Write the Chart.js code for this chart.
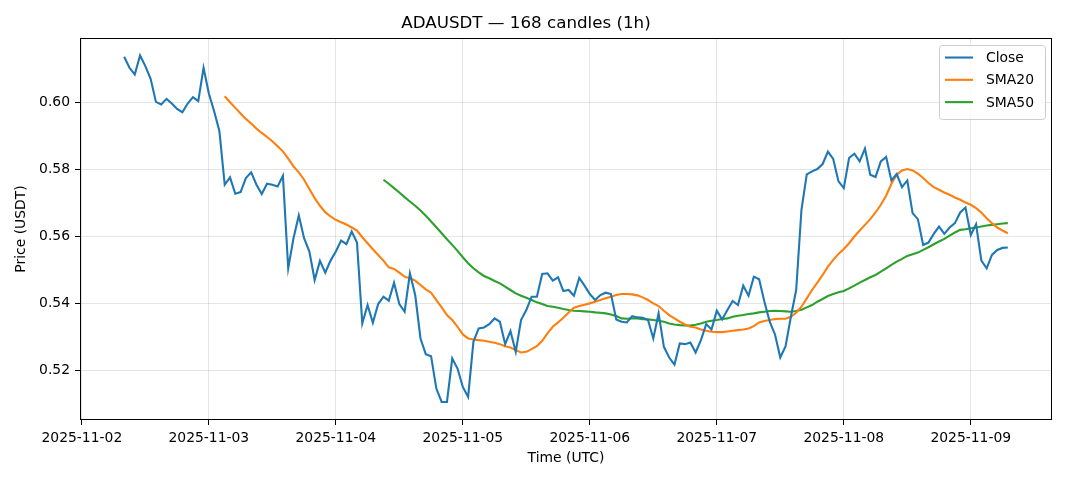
<!DOCTYPE html>
<html><head><meta charset="utf-8">
<script src="https://cdn.jsdelivr.net/npm/chart.js@4.4.1/dist/chart.umd.min.js"></script>
<style>html,body{margin:0;padding:0;background:#fff;overflow:hidden}#wrap{width:1068px;height:481px}</style>
</head><body><div id="wrap"><canvas id="c" width="1068" height="481"></canvas></div>
<script>
// Hours are counted from 2025-11-02 00:00 UTC; the first candle opens at 08:00.
const startHour = 8;
const dayTickHours = [0, 24, 48, 72, 96, 120, 144, 168];
const dayLabels = ['2025-11-02','2025-11-03','2025-11-04','2025-11-05','2025-11-06','2025-11-07','2025-11-08','2025-11-09'];
const yTicks = [0.52, 0.54, 0.56, 0.58, 0.60];
const yTickLabels = ['0.52', '0.54', '0.56', '0.58', '0.60'];

const close = [
0.6138,0.6105,0.6085,0.6142,0.6110,0.6072,0.6003,0.5995,0.6012,0.5998,
0.5982,0.5972,0.5998,0.6017,0.6005,0.6105,0.6028,0.5975,0.5915,0.5755,
0.5777,0.5728,0.5733,0.5775,0.5792,0.5755,0.5727,0.5758,0.5755,0.5750,
0.5782,0.5505,0.5595,0.5663,0.5595,0.5555,0.5470,0.5527,0.5492,0.5528,
0.5555,0.5588,0.5577,0.5615,0.5582,0.5340,0.5395,0.5342,0.5398,0.5420,
0.5408,0.5462,0.5398,0.5375,0.5490,0.5425,0.5295,0.5248,0.5242,0.5145,
0.5105,0.5105,0.5235,0.5205,0.5150,0.5120,0.5285,0.5325,0.5328,0.5338,
0.5355,0.5345,0.5278,0.5317,0.5255,0.5350,0.5380,0.5420,0.5420,0.5488,
0.5490,0.5468,0.5478,0.5437,0.5440,0.5423,0.5476,0.5453,0.5428,0.5410,
0.5425,0.5432,0.5428,0.5352,0.5345,0.5343,0.5362,0.5358,0.5357,0.5350,
0.5295,0.5370,0.5270,0.5238,0.5217,0.5280,0.5278,0.5283,0.5253,0.5290,
0.5338,0.5322,0.5378,0.5352,0.5380,0.5407,0.5395,0.5453,0.5423,0.5480,
0.5472,0.5405,0.5345,0.5307,0.5238,0.5272,0.5360,0.5440,0.5680,0.5786,
0.5795,0.5802,0.5817,0.5854,0.5832,0.5765,0.5745,0.5835,0.5848,0.5825,
0.5863,0.5785,0.5778,0.5825,0.5838,0.5768,0.5787,0.5748,0.5768,0.5670,
0.5652,0.5575,0.5582,0.5608,0.5630,0.5608,0.5627,0.5640,0.5672,0.5687,
0.5605,0.5637,0.5528,0.5505,0.5545,0.5560,0.5566,0.5567
];

// SMA20 starts at candle index 19
const sma20Start = 19;
const sma20 = [
0.6020,0.6002,0.5985,0.5968,0.5952,0.5938,0.5923,0.5910,0.5898,0.5885,
0.5870,0.5855,0.5833,0.5810,0.5792,0.5770,0.5742,0.5715,0.5692,0.5673,
0.5660,0.5650,0.5643,0.5636,0.5627,0.5618,0.5598,0.5580,0.5562,0.5545,
0.5528,0.5508,0.5503,0.5492,0.5480,0.5475,0.5468,0.5455,0.5442,0.5432,
0.5410,0.5388,0.5365,0.5350,0.5330,0.5307,0.5295,0.5292,0.5290,0.5288,
0.5285,0.5282,0.5278,0.5272,0.5268,0.5260,0.5253,0.5255,0.5263,0.5272,
0.5288,0.5310,0.5330,0.5343,0.5357,0.5373,0.5387,0.5392,0.5396,0.5400,
0.5405,0.5410,0.5415,0.5420,0.5425,0.5428,0.5428,0.5427,0.5424,0.5418,
0.5410,0.5400,0.5392,0.5378,0.5365,0.5355,0.5345,0.5337,0.5330,0.5328,
0.5322,0.5318,0.5315,0.5314,0.5314,0.5316,0.5318,0.5320,0.5322,0.5325,
0.5332,0.5343,0.5347,0.5350,0.5353,0.5354,0.5354,0.5360,0.5372,0.5390,
0.5415,0.5440,0.5462,0.5485,0.5510,0.5530,0.5548,0.5563,0.5580,0.5600,
0.5618,0.5635,0.5652,0.5672,0.5695,0.5722,0.5758,0.5785,0.5798,0.5802,
0.5798,0.5788,0.5775,0.5760,0.5748,0.5740,0.5732,0.5725,0.5717,0.5710,
0.5702,0.5695,0.5685,0.5672,0.5655,0.5640,0.5627,0.5618,0.5610
];

// SMA50 starts at candle index 49
const sma50Start = 49;
const sma50 = [
0.5770,0.5758,0.5745,0.5732,0.5718,0.5705,0.5692,0.5678,0.5662,0.5645,
0.5628,0.5610,0.5592,0.5575,0.5557,0.5538,0.5520,0.5505,0.5493,0.5482,
0.5475,0.5467,0.5460,0.5450,0.5440,0.5430,0.5423,0.5417,0.5410,0.5403,
0.5398,0.5392,0.5390,0.5387,0.5383,0.5380,0.5378,0.5377,0.5376,0.5375,
0.5373,0.5372,0.5370,0.5367,0.5362,0.5355,0.5354,0.5355,0.5355,0.5353,
0.5352,0.5350,0.5348,0.5345,0.5340,0.5337,0.5335,0.5334,0.5334,0.5336,
0.5340,0.5345,0.5348,0.5350,0.5353,0.5355,0.5360,0.5363,0.5365,0.5368,
0.5370,0.5373,0.5375,0.5377,0.5378,0.5377,0.5376,0.5375,0.5377,0.5381,
0.5388,0.5395,0.5405,0.5413,0.5422,0.5428,0.5433,0.5437,0.5445,0.5453,
0.5462,0.5470,0.5478,0.5485,0.5495,0.5505,0.5515,0.5525,0.5533,0.5542,
0.5547,0.5552,0.5560,0.5568,0.5577,0.5585,0.5593,0.5603,0.5612,0.5620,
0.5622,0.5625,0.5627,0.5630,0.5633,0.5635,0.5637,0.5639,0.5640
];

function toPoints(values, offset) {
  return values.map((v, k) => ({ x: startHour + offset + k, y: v }));
}

const FONT = "'DejaVu Sans', sans-serif";

const frameAndLegend = {
  id: 'frameAndLegend',
  afterDatasetsDraw(chart) {
    const ctx = chart.ctx;
    const a = chart.chartArea;
    ctx.save();
    // axes frame
    ctx.strokeStyle = '#000';
    ctx.lineWidth = 1;
    ctx.strokeRect(Math.round(a.left) + 0.5, Math.round(a.top) + 0.5,
      Math.round(a.right - a.left) - 1, Math.round(a.bottom - a.top) - 1);
    // legend
    const w = 106, h = 74;
    const x0 = a.right - 7 - w, y0 = a.top + 7;
    ctx.beginPath();
    if (ctx.roundRect) ctx.roundRect(x0 + 0.5, y0 + 0.5, w, h, 3); else ctx.rect(x0 + 0.5, y0 + 0.5, w, h);
    ctx.fillStyle = 'rgba(255,255,255,0.8)';
    ctx.fill();
    ctx.strokeStyle = '#cccccc';
    ctx.lineWidth = 1;
    ctx.stroke();
    ctx.font = '13.9px ' + FONT;
    ctx.textBaseline = 'middle';
    ctx.textAlign = 'left';
    chart.data.datasets.forEach((ds, k) => {
      const yy = y0 + 12.5 + k * 22.3;
      ctx.beginPath();
      ctx.moveTo(x0 + 6, yy);
      ctx.lineTo(x0 + 34, yy);
      ctx.strokeStyle = ds.borderColor;
      ctx.lineWidth = 2.1;
      ctx.stroke();
      ctx.fillStyle = '#000';
      ctx.fillText(ds.label, x0 + 47, yy + 1);
    });
    ctx.restore();
  }
};

new Chart(document.getElementById('c'), {
  type: 'line',
  data: {
    datasets: [
      { label: 'Close', data: toPoints(close, 0), borderColor: '#1f77b4', borderWidth: 2.1, pointRadius: 0, tension: 0, fill: false },
      { label: 'SMA20', data: toPoints(sma20, sma20Start), borderColor: '#ff7f0e', borderWidth: 2.1, pointRadius: 0, tension: 0, fill: false },
      { label: 'SMA50', data: toPoints(sma50, sma50Start), borderColor: '#2ca02c', borderWidth: 2.1, pointRadius: 0, tension: 0, fill: false }
    ]
  },
  options: {
    responsive: false,
    animation: false,
    devicePixelRatio: 1,
    layout: { padding: { left: 0, right: 16, top: 0, bottom: 0 } },
    plugins: {
      legend: { display: false },
      tooltip: { enabled: false },
      title: {
        display: true,
        text: 'ADAUSDT — 168 candles (1h)',
        color: '#000',
        font: { family: FONT, size: 16.7, weight: 'normal', lineHeight: 1.2 },
        padding: { top: 14, bottom: 4 }
      }
    },
    scales: {
      x: {
        type: 'linear',
        min: startHour - 8.35,
        max: startHour + close.length - 1 + 8.35,
        afterBuildTicks(scale) { scale.ticks = dayTickHours.map(v => ({ value: v })); },
        afterFit(scale) { scale.height = 61; },
        ticks: {
          autoSkip: false, maxRotation: 0, padding: 5, color: '#000',
          font: { family: FONT, size: 13.9 },
          callback(value) { const k = dayTickHours.indexOf(value); return k >= 0 ? dayLabels[k] : ''; }
        },
        grid: { color: 'rgba(0,0,0,0.1)', lineWidth: 1, drawTicks: true, tickLength: 5, tickColor: '#000', tickWidth: 1 },
        border: { display: false },
        title: { display: true, text: 'Time (UTC)', color: '#000', font: { family: FONT, size: 13.9 }, padding: { top: 0, bottom: 14 } }
      },
      y: {
        type: 'linear',
        min: 0.5051,
        max: 0.6194,
        afterBuildTicks(scale) { scale.ticks = yTicks.map(v => ({ value: v })); },
        afterFit(scale) { scale.width = 80; },
        ticks: {
          padding: 5, color: '#000',
          font: { family: FONT, size: 13.9 },
          callback(value) { const k = yTicks.findIndex(t => Math.abs(t - value) < 1e-9); return k >= 0 ? yTickLabels[k] : ''; }
        },
        grid: { color: 'rgba(0,0,0,0.1)', lineWidth: 1, drawTicks: true, tickLength: 5, tickColor: '#000', tickWidth: 1 },
        border: { display: false },
        title: { display: true, text: 'Price (USDT)', color: '#000', font: { family: FONT, size: 13.9 }, padding: { top: 13.5, bottom: 0 } }
      }
    }
  },
  plugins: [frameAndLegend]
});
</script>
</body></html>
